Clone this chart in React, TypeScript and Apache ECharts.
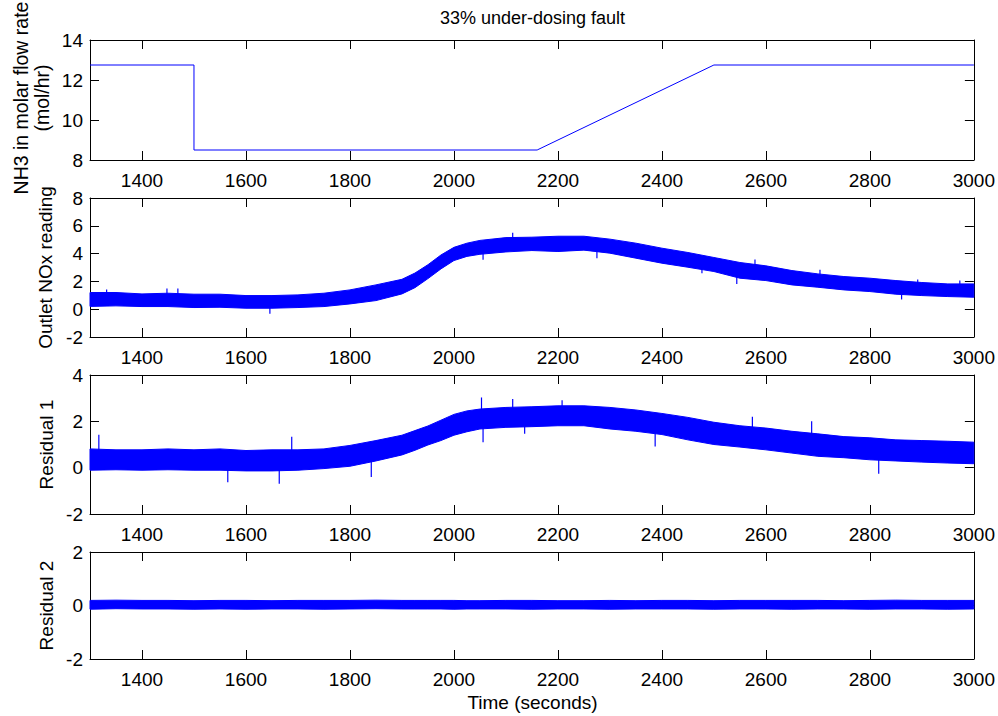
import React, { useEffect, useRef } from "react";
import * as echarts from "echarts";

// ---- data ----
const TIME_TICKS = [1400, 1600, 1800, 2000, 2200, 2400, 2600, 2800, 3000];

// NH3 dosing profile (step down at 1500 s, ramp back up 2160-2500 s)
const NH3_TIME = [1300, 1500, 1500, 2160, 2500, 3000];
const NH3_VALUE = [12.75, 12.75, 8.5, 8.5, 12.75, 12.75];

// time grid used for the envelope (dense noisy traces drawn as a band)
const BAND_TIME = [
  1300, 1350, 1400, 1450, 1500, 1550, 1600, 1650, 1700, 1750, 1800, 1850,
  1900, 1925, 1950, 1975, 2000, 2025, 2050, 2100, 2150, 2200, 2250, 2300,
  2350, 2400, 2450, 2500, 2550, 2600, 2650, 2700, 2750, 2800, 2850, 2900,
  2950, 3000,
];

// Outlet NOx reading: upper / lower envelope of the noisy trace
const NOX_UPPER = [
  1.2, 1.2, 1.1, 1.15, 1.08, 1.08, 0.98, 0.98, 1.03, 1.15, 1.39, 1.75,
  2.15, 2.6, 3.2, 3.9, 4.45, 4.75, 4.95, 5.15, 5.18, 5.25, 5.25, 5.04,
  4.75, 4.39, 4.08, 3.72, 3.36, 3.12, 2.78, 2.54, 2.35, 2.23, 2.06, 1.92,
  1.82, 1.82,
];
const NOX_LOWER = [
  0.2, 0.24, 0.19, 0.19, 0.12, 0.14, 0.07, 0.07, 0.12, 0.19, 0.38, 0.62,
  1.1, 1.55, 2.2, 2.9, 3.5, 3.8, 3.95, 4.12, 4.22, 4.15, 4.25, 4.03,
  3.67, 3.31, 3.02, 2.71, 2.23, 2.06, 1.75, 1.58, 1.39, 1.27, 1.08, 0.98,
  0.91, 0.86,
];
// isolated spikes sticking out of the NOx band: [time, from, to]
const NOX_SPIKES = [
  [1332, 0.7, 1.42], [1448, 0.7, 1.49], [1469, 0.7, 1.49], [1646, -0.33, 0.4],
  [2056, 3.55, 4.2], [2113, 4.9, 5.5], [2275, 3.67, 4.4], [2477, 2.59, 3.3],
  [2544, 1.82, 2.6], [2579, 3.0, 3.57], [2704, 2.3, 2.83], [2861, 0.7, 1.3],
  [2892, 1.6, 2.14], [2973, 1.5, 2.06],
];

// Residual 1 envelope
const R1_UPPER = [
  0.81, 0.77, 0.77, 0.81, 0.77, 0.81, 0.74, 0.77, 0.77, 0.81, 0.96, 1.17,
  1.4, 1.6, 1.8, 2.05, 2.3, 2.45, 2.53, 2.6, 2.63, 2.67, 2.67, 2.6,
  2.49, 2.34, 2.17, 1.96, 1.81, 1.71, 1.57, 1.46, 1.34, 1.29, 1.2, 1.17,
  1.14, 1.1,
];
const R1_LOWER = [
  -0.11, -0.09, -0.11, -0.09, -0.11, -0.11, -0.14, -0.14, -0.11, -0.04, 0.06, 0.29,
  0.55, 0.75, 0.98, 1.17, 1.4, 1.55, 1.67, 1.74, 1.77, 1.81, 1.81, 1.67,
  1.57, 1.43, 1.2, 1.0, 0.89, 0.77, 0.63, 0.49, 0.43, 0.34, 0.29, 0.24,
  0.2, 0.17,
];
const R1_SPIKES = [
  [1317, 0.3, 1.42], [1565, -0.63, 0.1], [1664, -0.69, 0.0], [1688, 0.6, 1.33],
  [1841, -0.4, 0.3], [2053, 2.2, 3.03], [2056, 1.1, 1.8], [2113, 2.4, 2.96],
  [2136, 1.46, 2.0], [2208, 2.4, 2.91], [2387, 0.91, 1.6], [2574, 1.6, 2.2],
  [2688, 1.4, 2.0], [2817, -0.26, 0.5],
];

// Residual 2 envelope
const R2_UPPER = [
  0.19, 0.2, 0.19, 0.19, 0.18, 0.19, 0.19, 0.18, 0.19, 0.19, 0.19, 0.2,
  0.19, 0.19, 0.19, 0.19, 0.19, 0.18, 0.18, 0.19, 0.19, 0.18, 0.18, 0.19,
  0.18, 0.19, 0.19, 0.18, 0.19, 0.19, 0.19, 0.19, 0.18, 0.19, 0.2, 0.19,
  0.19, 0.19,
];
const R2_LOWER = [
  -0.14, -0.12, -0.13, -0.13, -0.14, -0.13, -0.14, -0.13, -0.13, -0.14, -0.13, -0.12,
  -0.13, -0.13, -0.13, -0.13, -0.14, -0.13, -0.13, -0.13, -0.14, -0.13, -0.13, -0.14,
  -0.13, -0.13, -0.13, -0.14, -0.13, -0.13, -0.14, -0.13, -0.13, -0.14, -0.13, -0.13,
  -0.14, -0.13,
];

const TITLE = "33% under-dosing fault";
const X_NAME = "Time (seconds)";
const Y_NAMES = [
  "NH3 in molar flow rate\n(mol/hr)",
  "Outlet NOx reading",
  "Residual 1",
  "Residual 2",
];
const Y_RANGES = [
  [8, 14],
  [-2, 8],
  [-2, 4],
  [-2, 2],
];

// ---- layout ----
const FONT = "'Liberation Sans', Arial, Helvetica, sans-serif";
const W = 998;
const H = 716;
const PLOT_LEFT = 90;
const PLOT_RIGHT = 975;
const PANELS = [
  { top: 40, height: 120 },
  { top: 198, height: 139 },
  { top: 375, height: 139 },
  { top: 552, height: 107 },
];
const BLUE = "#0000ff";

export default function App() {
  const ref = useRef<HTMLDivElement>(null);

  useEffect(() => {
    if (!ref.current) return;
    const chart = echarts.init(ref.current, undefined, { renderer: "svg" });

    const grid: any[] = [];
    const xAxis: any[] = [];
    const yAxis: any[] = [];
    PANELS.forEach((p, i) => {
      grid.push({
        left: PLOT_LEFT,
        right: W - PLOT_RIGHT,
        top: p.top,
        height: p.height,
        containLabel: false,
      });
      const xBase = {
        gridIndex: i,
        type: "value",
        min: 1300,
        max: 3000,
        splitLine: { show: false },
        axisLine: { show: true, onZero: false, lineStyle: { color: "#000", width: 1 } },
        axisTick: {
          show: true,
          inside: true,
          length: 9,
          customValues: TIME_TICKS,
          lineStyle: { color: "#000", width: 1 },
        },
      };
      xAxis.push({
        ...xBase,
        position: "bottom",
        axisLabel: {
          show: true,
          customValues: TIME_TICKS,
          formatter: (v: number) => String(v),
          margin: 11,
          fontSize: 19,
          color: "#000",
          fontFamily: FONT,
        },
      });
      xAxis.push({ ...xBase, position: "top", axisLabel: { show: false } });
      const [mn, mx] = Y_RANGES[i];
      const yBase = {
        gridIndex: i,
        type: "value",
        min: mn,
        max: mx,
        interval: 2,
        splitLine: { show: false },
        axisLine: { show: true, onZero: false, lineStyle: { color: "#000", width: 1 } },
        axisTick: { show: true, inside: true, length: 9, lineStyle: { color: "#000", width: 1 } },
      };
      yAxis.push({
        ...yBase,
        position: "left",
        axisLabel: {
          show: true,
          margin: 7,
          fontSize: 19,
          color: "#000",
          fontFamily: FONT,
          formatter: (v: number) => String(v),
        },
      });
      yAxis.push({ ...yBase, position: "right", axisLabel: { show: false } });
    });

    const bandSeries = (i: number, upper: number[], lower: number[]) => ({
      type: "custom",
      xAxisIndex: 2 * i,
      yAxisIndex: 2 * i,
      data: BAND_TIME.map((t, k) => [t, lower[k], upper[k]]),
      encode: { x: 0, y: [1, 2] },
      z: 3,
      renderItem: (params: any, api: any) => {
        if (params.dataIndex !== 0) return null;
        const pts: number[][] = [];
        for (let k = 0; k < BAND_TIME.length; k++) {
          pts.push(api.coord([BAND_TIME[k], upper[k]]));
        }
        for (let k = BAND_TIME.length - 1; k >= 0; k--) {
          pts.push(api.coord([BAND_TIME[k], lower[k]]));
        }
        return {
          type: "polygon",
          shape: { points: pts },
          style: { fill: BLUE, stroke: BLUE, lineWidth: 1 },
        };
      },
    });

    const spikeSeries = (i: number, spikes: number[][]) => ({
      type: "custom",
      xAxisIndex: 2 * i,
      yAxisIndex: 2 * i,
      data: spikes,
      encode: { x: 0, y: [1, 2] },
      z: 4,
      renderItem: (params: any, api: any) => {
        const a = api.coord([api.value(0), api.value(1)]);
        const b = api.coord([api.value(0), api.value(2)]);
        return {
          type: "line",
          shape: { x1: a[0], y1: a[1], x2: b[0], y2: b[1] },
          style: { stroke: BLUE, lineWidth: 1.2 },
        };
      },
    });

    const series: any[] = [
      {
        type: "line",
        xAxisIndex: 0,
        yAxisIndex: 0,
        symbol: "none",
        data: NH3_TIME.map((t, k) => [t, NH3_VALUE[k]]),
        lineStyle: { color: BLUE, width: 1 },
      },
      bandSeries(1, NOX_UPPER, NOX_LOWER),
      spikeSeries(1, NOX_SPIKES),
      bandSeries(2, R1_UPPER, R1_LOWER),
      spikeSeries(2, R1_SPIKES),
      bandSeries(3, R2_UPPER, R2_LOWER),
    ];

    const centerX = (PLOT_LEFT + PLOT_RIGHT) / 2;
    const graphic: any[] = [
      {
        type: "text",
        x: centerX,
        y: 18,
        style: {
          text: TITLE,
          fontSize: 18,
          fontFamily: FONT,
          fill: "#000",
          align: "center",
          verticalAlign: "middle",
        },
      },
      {
        type: "text",
        x: centerX,
        y: 702,
        style: {
          text: X_NAME,
          fontSize: 19,
          fontFamily: FONT,
          fill: "#000",
          align: "center",
          verticalAlign: "middle",
        },
      },
    ];
    const nameX = [31, 45, 46, 46];
    const nameY = [98, 267.5, 444.5, 605.5];
    const nameSize = [19.5, 19, 19, 19];
    PANELS.forEach((p, i) => {
      graphic.push({
        type: "text",
        x: nameX[i],
        y: nameY[i],
        rotation: Math.PI / 2,
        style: {
          text: Y_NAMES[i],
          fontSize: nameSize[i],
          lineHeight: 21,
          fontFamily: FONT,
          fill: "#000",
          align: "center",
          verticalAlign: "middle",
        },
      });
    });

    chart.setOption({
      animation: false,
      backgroundColor: "#fff",
      textStyle: { fontFamily: FONT },
      grid,
      xAxis,
      yAxis,
      series,
      graphic,
    });

    return () => chart.dispose();
  }, []);

  return (
    <div
      ref={ref}
      style={{ position: "absolute", left: 0, top: 0, width: W, height: H }}
    />
  );
}
